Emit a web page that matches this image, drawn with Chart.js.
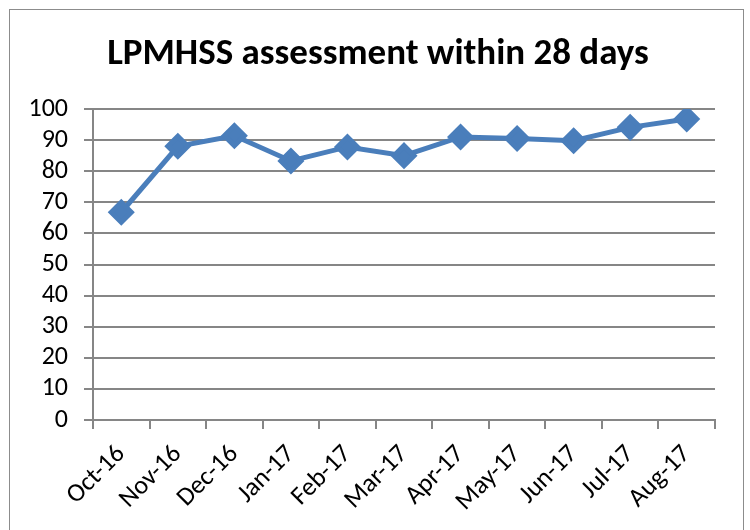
<!DOCTYPE html>
<html>
<head>
<meta charset="utf-8">
<script src="https://cdn.jsdelivr.net/npm/chart.js@4"></script>
<style>
  body { margin: 0; background: #fff; }
  #wrap { position: relative; width: 750px; height: 530px; overflow: hidden; }
  #frame { position: absolute; left: 9px; top: 9px; width: 735px; height: 540px; border: 1px solid #8c8c8c; box-sizing: border-box; }
  canvas { position: absolute; left: 0; top: 0; }
</style>
</head>
<body>
<div id="wrap">
  <div id="frame"></div>
  <canvas id="chart" width="750" height="530"></canvas>
</div>
<script>
// month labels along the x axis
const months = ['Oct-16', 'Nov-16', 'Dec-16', 'Jan-17', 'Feb-17', 'Mar-17',
                'Apr-17', 'May-17', 'Jun-17', 'Jul-17', 'Aug-17'];
// percentage assessed within 28 days
const assessed = [66.8, 88.0, 91.4, 83.3, 87.8, 85.0, 91.0, 90.5, 89.8, 94.1, 96.8];

const titleText = 'LPMHSS assessment within 28 days';
const gray = '#868686';
const fontFamily = "Carlito, 'Open Sans', sans-serif";

// title is centred on the framed box, not on the canvas minus padding,
// so draw it ourselves
const frameTitle = {
    id: 'frameTitle',
    afterDraw(chart) {
        const c = chart.ctx;
        c.save();
        c.font = 'bold 37px ' + fontFamily;
        c.fillStyle = '#000';
        c.textAlign = 'center';
        c.textBaseline = 'middle';
        c.fillText(titleText, 378, 55);
        c.restore();
    }
};

const ctx = document.getElementById('chart').getContext('2d');
new Chart(ctx, {
    type: 'line',
    data: {
        labels: months,
        datasets: [{
            label: titleText,
            data: assessed,
            borderColor: '#4A7EBB',
            backgroundColor: '#4A7EBB',
            borderWidth: 5,
            pointStyle: 'rectRot',
            pointRadius: 10,
            pointHoverRadius: 10,
            fill: false,
            tension: 0
        }]
    },
    plugins: [frameTitle],
    options: {
        responsive: false,
        animation: false,
        layout: { padding: { left: 0, right: 35, top: 109, bottom: 0 } },
        plugins: {
            legend: { display: false },
            tooltip: { enabled: false },
            title: { display: false }
        },
        scales: {
            x: {
                offset: true,
                afterFit: scale => { scale.height = 110; },
                grid: { display: true, drawOnChartArea: false, offset: true, color: gray, tickLength: 9, lineWidth: 2 },
                border: { color: gray, width: 2 },
                ticks: {
                    color: '#000',
                    font: { family: fontFamily, size: 26 },
                    minRotation: 45,
                    maxRotation: 45,
                    autoSkip: false,
                    padding: 10
                }
            },
            y: {
                min: 0,
                max: 100,
                afterFit: scale => { scale.width = 93; },
                grid: { color: gray, tickLength: 9, lineWidth: 2 },
                border: { color: gray, width: 2 },
                ticks: {
                    stepSize: 10,
                    autoSkip: false,
                    color: '#000',
                    font: { family: fontFamily, size: 26 },
                    padding: 16
                }
            }
        }
    }
});
</script>
</body>
</html>
